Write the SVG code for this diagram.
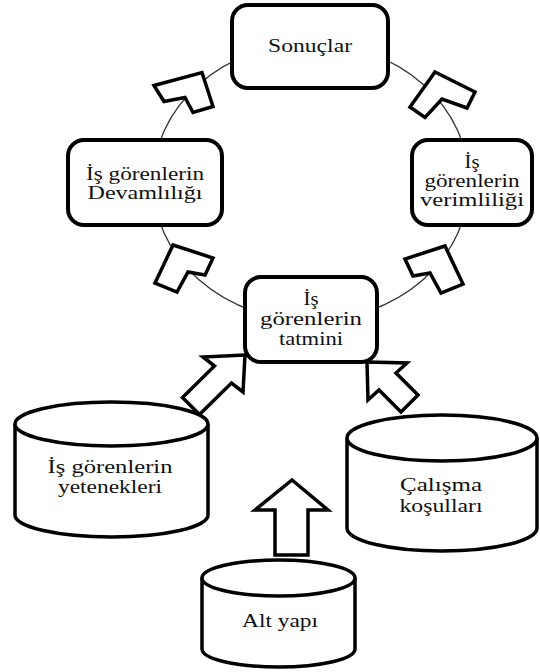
<svg xmlns="http://www.w3.org/2000/svg" width="540" height="672" viewBox="0 0 540 672" font-family="Liberation Serif, Times New Roman, serif">
  <style>
    .ring { fill: none; stroke: #333; stroke-width: 1.3; }
    .box { fill: #fff; stroke: #000; stroke-width: 4; }
    .cyl { fill: #fff; stroke: #000; stroke-width: 3.5; }
    .blk { fill: #fff; stroke: #000; stroke-width: 3.5; stroke-linejoin: miter; }
    .lbl { font-size: 18px; fill: #111; text-anchor: middle; }
  </style>

  <!-- cycle ring behind the four result boxes -->
  <ellipse class="ring" cx="311" cy="182" rx="158" ry="138.5"/>

  <g id="connectors">
    <!-- chevrons on the ring -->
    <polygon class="blk" points="154,85.5 202,72.5 213,106.5 193,112.5 185,97.5 164,101.5"/>
    <polygon class="blk" points="435,72 475,92 467,108 442,99 425,117.5 410,107"/>
    <polygon class="blk" points="173,245 213,258 205,275 188,272 177,292 155,283"/>
    <polygon class="blk" points="445,246 405,259 413,276 430,273 441,293 463,284"/>
    <!-- block arrows into the satisfaction box -->
    <polygon class="blk" points="245,355 203,357 214.5,366 182.5,397.5 199.5,414.5 231.5,383 243,392"/>
    <polygon class="blk" points="367,362 407,363 396,373 418,395 401,412 379,390 368,400"/>
    <polygon class="blk" points="292,480 328,510 308,510 308,555 275,555 275,510 255,510"/>
  </g>

  <g id="sonuclar">
    <rect class="box" x="232" y="5" width="156" height="83" rx="16"/>
    <text class="lbl" x="310" y="52" textLength="84" lengthAdjust="spacingAndGlyphs">Sonuçlar</text>
  </g>

  <g id="devamlilik">
    <rect class="box" x="68" y="140" width="154" height="85" rx="16"/>
    <text class="lbl" x="145" y="180" textLength="118" lengthAdjust="spacingAndGlyphs">İş görenlerin</text>
    <text class="lbl" x="145" y="199" textLength="115" lengthAdjust="spacingAndGlyphs">Devamlılığı</text>
  </g>

  <g id="verimlilik">
    <rect class="box" x="412" y="140" width="120" height="85" rx="16"/>
    <text class="lbl" x="472" y="168" textLength="15" lengthAdjust="spacingAndGlyphs">İş</text>
    <text class="lbl" x="472" y="187" textLength="95" lengthAdjust="spacingAndGlyphs">görenlerin</text>
    <text class="lbl" x="472" y="206" textLength="104" lengthAdjust="spacingAndGlyphs">verimliliği</text>
  </g>

  <g id="tatmin">
    <rect class="box" x="245" y="277" width="132" height="85" rx="16"/>
    <text class="lbl" x="311" y="305" textLength="15" lengthAdjust="spacingAndGlyphs">İş</text>
    <text class="lbl" x="311" y="325" textLength="102" lengthAdjust="spacingAndGlyphs">görenlerin</text>
    <text class="lbl" x="311" y="345" textLength="64" lengthAdjust="spacingAndGlyphs">tatmini</text>
  </g>

  <g id="yetenekler">
    <path class="cyl" d="M15,424 V515 A96.5,22 0 0 0 208,515 V424"/>
    <ellipse class="cyl" cx="111.5" cy="424" rx="96.5" ry="22"/>
    <text class="lbl" x="110" y="473" textLength="125" lengthAdjust="spacingAndGlyphs">İş görenlerin</text>
    <text class="lbl" x="110" y="493" textLength="104" lengthAdjust="spacingAndGlyphs">yetenekleri</text>
  </g>

  <g id="calisma-kosullari">
    <path class="cyl" d="M347,438 V528 A95,23 0 0 0 537,528 V438"/>
    <ellipse class="cyl" cx="442" cy="438" rx="95" ry="23"/>
    <text class="lbl" x="441" y="491" textLength="82" lengthAdjust="spacingAndGlyphs">Çalışma</text>
    <text class="lbl" x="441" y="512" textLength="83" lengthAdjust="spacingAndGlyphs">koşulları</text>
  </g>

  <g id="alt-yapi">
    <path class="cyl" d="M202,578 V649 A76.5,18 0 0 0 355,649 V578"/>
    <ellipse class="cyl" cx="278.5" cy="578" rx="76.5" ry="18"/>
    <text class="lbl" x="280" y="627" textLength="76" lengthAdjust="spacingAndGlyphs">Alt yapı</text>
  </g>
</svg>
